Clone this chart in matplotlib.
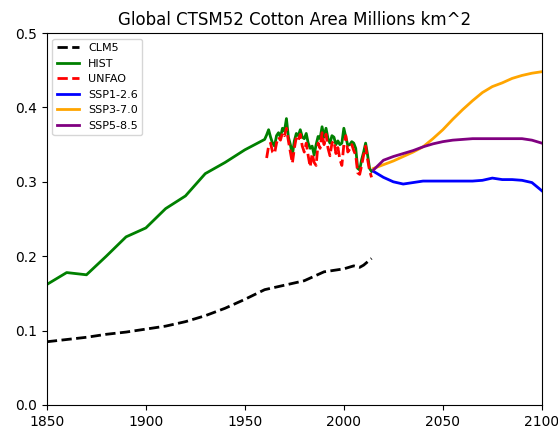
import matplotlib
matplotlib.use("Agg")
import matplotlib.pyplot as plt
import numpy as np

# CLM5 default crop area
clm5_years = [1850, 1860, 1870, 1880, 1890, 1900, 1910, 1920, 1930, 1940, 1950,
              1960, 1970, 1980, 1990, 2000, 2005, 2008, 2010, 2014]
clm5_area = [0.085, 0.088, 0.091, 0.095, 0.098, 0.102, 0.106, 0.112, 0.120, 0.130,
             0.142, 0.155, 0.161, 0.167, 0.179, 0.183, 0.187, 0.185, 0.188, 0.197]

# historical landuse: decadal until 1960, then annual
hist_years = list(range(1850, 1961, 10)) + list(range(1961, 2015))
hist_area = [0.162, 0.178, 0.175, 0.200, 0.226, 0.238, 0.264, 0.281, 0.311, 0.326,
             0.343, 0.357,
             0.363, 0.370, 0.360, 0.352, 0.348, 0.362, 0.366, 0.360, 0.372, 0.368,
             0.385, 0.360, 0.350, 0.336, 0.355, 0.365, 0.362, 0.370, 0.360, 0.358,
             0.365, 0.352, 0.345, 0.348, 0.336, 0.350, 0.361, 0.358, 0.374, 0.360,
             0.372, 0.358, 0.352, 0.362, 0.360, 0.350, 0.355, 0.350, 0.352, 0.372,
             0.360, 0.349, 0.350, 0.354, 0.352, 0.345, 0.318, 0.316, 0.330, 0.340,
             0.352, 0.336, 0.318, 0.314]

# FAO statistics
fao_years = list(range(1961, 2015))
fao_area = [0.332, 0.348, 0.352, 0.340, 0.338, 0.352, 0.360, 0.356, 0.366, 0.362,
            0.372, 0.355, 0.340, 0.325, 0.345, 0.360, 0.356, 0.364, 0.348, 0.340,
            0.352, 0.335, 0.320, 0.338, 0.326, 0.322, 0.352, 0.345, 0.366, 0.350,
            0.364, 0.345, 0.335, 0.352, 0.355, 0.338, 0.346, 0.330, 0.322, 0.350,
            0.362, 0.340, 0.344, 0.350, 0.342, 0.336, 0.312, 0.310, 0.322, 0.336,
            0.348, 0.330, 0.315, 0.306]

# future scenarios
ssp_years = list(range(2015, 2101, 5))
ssp126 = [0.314, 0.306, 0.300, 0.297, 0.299, 0.301, 0.301, 0.301, 0.301, 0.301,
          0.301, 0.302, 0.305, 0.303, 0.303, 0.302, 0.299, 0.288]
ssp370 = [0.318, 0.323, 0.328, 0.334, 0.340, 0.347, 0.358, 0.370, 0.384, 0.397,
          0.409, 0.420, 0.428, 0.433, 0.439, 0.443, 0.446, 0.448]
ssp585 = [0.316, 0.329, 0.334, 0.338, 0.342, 0.347, 0.351, 0.354, 0.356, 0.357,
          0.358, 0.358, 0.358, 0.358, 0.358, 0.358, 0.356, 0.352]

fig = plt.figure(figsize=(5.58, 4.29), dpi=100)
ax = fig.add_axes([0.084, 0.056, 0.887, 0.867])

ax.plot(clm5_years, clm5_area, "k--", lw=2, label="CLM5")
ax.plot(hist_years, hist_area, color="green", lw=2, label="HIST")
ax.plot(fao_years, fao_area, "r--", lw=2, label="UNFAO")
ax.plot(ssp_years, ssp126, color="blue", lw=2, label="SSP1-2.6")
ax.plot(ssp_years, ssp370, color="orange", lw=2, label="SSP3-7.0")
ax.plot(ssp_years, ssp585, color="purple", lw=2, label="SSP5-8.5")

ax.set_xlim(1850, 2100)
ax.set_ylim(0, 0.5)
ax.set_xticks([1850, 1900, 1950, 2000, 2050, 2100])
ax.set_yticks(np.arange(0, 0.51, 0.1))
ax.set_title("Global CTSM52 Cotton Area Millions km^2", fontsize=12)
ax.legend(loc="upper left", fontsize=8)

fig.savefig("out.png", dpi=100)
